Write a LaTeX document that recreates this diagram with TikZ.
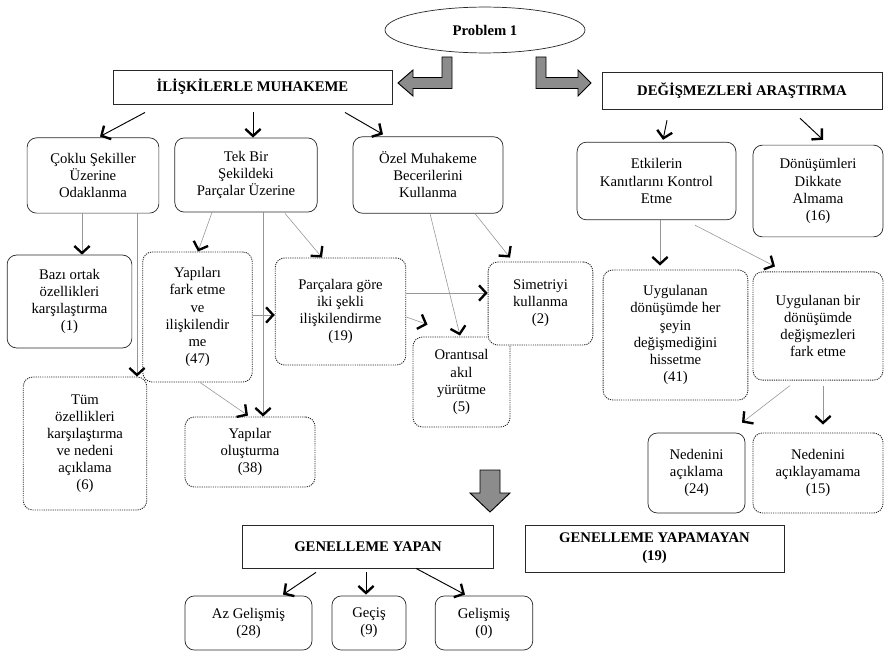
\documentclass[tikz,border=0pt]{standalone}
\usepackage{fontspec}
\setmainfont{Liberation Serif}
\usepackage{tikz}
\usetikzlibrary{shapes.geometric, arrows.meta, calc}
\definecolor{mydark}{RGB}{40,40,40}
\definecolor{mygray}{RGB}{150,150,150}
\definecolor{myfill}{RGB}{140,140,140}
\newcommand{\boxtxt}{\fontsize{12.5}{14.5}\selectfont}
\newcommand{\hdrtxt}{\fontsize{12.5}{15}\selectfont\bfseries}
\tikzset{
  hdrbox/.style={rectangle, draw=mydark, fill=white, align=center,
    font=\hdrtxt, line width=0.7pt, inner sep=1pt},
  rbox/.style={rectangle, draw=mydark, fill=white, align=center,
    font=\boxtxt, rounded corners=8pt, line width=0.6pt, inner sep=1pt},
  dbox/.style={rbox, dash pattern=on 1pt off 0.9pt, line width=0.75pt},
  arrow/.style={-{Straight Barb[length=6pt, width=13pt, line width=2pt]}, line width=0.8pt, color=black},
  thinarrow/.style={-{Straight Barb[color=black, length=6pt, width=13pt, line width=2pt]}, line width=0.5pt, color=mygray},
  blockarrow/.style={draw=black, fill=myfill, line width=0.8pt, line join=miter}
}

\begin{document}
\begin{tikzpicture}[x=0.85pt, y=-0.85pt]
  \useasboundingbox (0,0) rectangle (884,652);

  % Problem and the two main ways
  \node[ellipse, draw=mydark, fill=white, line width=0.6pt, minimum width=170pt, minimum height=39pt, font=\hdrtxt] (prob) at (485,30) {Problem 1};
  \node[hdrbox, minimum width=237pt, minimum height=29pt] (ilis) at (252.5,87) {İLİŞKİLERLE MUHAKEME};
  \node[hdrbox, minimum width=238pt, minimum height=32pt] (degis) at (742,91) {DEĞİŞMEZLERİ ARAŞTIRMA};
  \draw[blockarrow] (442,57) -- (452,57) -- (452,88.5) -- (413,88.5) -- (413,96) -- (398,83) -- (413,70) -- (413,77.5) -- (442,77.5) -- cycle;
  \draw[blockarrow] (546,57) -- (536,57) -- (536,88.5) -- (578,88.5) -- (578,96) -- (591,83) -- (578,70) -- (578,77.5) -- (546,77.5) -- cycle;

  % Second level
  \node[rbox, minimum width=112pt, minimum height=64pt] (coklu) at (93,175.5) {Çoklu Şekiller\\Üzerine\\Odaklanma};
  \node[rbox, minimum width=121pt, minimum height=63pt] (tek) at (246,175) {Tek Bir\\Şekildeki\\Parçalar Üzerine};
  \node[rbox, minimum width=127.5pt, minimum height=65pt] (ozel) at (428,175) {Özel Muhakeme\\Becerilerini\\Kullanma};
  \node[rbox, minimum width=135pt, minimum height=66pt] (etki) at (656.5,181) {Etkilerin\\Kanıtlarını Kontrol\\Etme};
  \node[rbox, minimum width=110.5pt, minimum height=78pt] (donus) at (818,191) {Dönüşümleri\\Dikkate\\Almama\\(16)};

  % Third level
  \node[rbox, minimum width=106pt, minimum height=79pt] (bazi) at (69.5,301.5) {Bazı ortak\\özellikleri\\karşılaştırma\\(1)};
  \node[dbox, minimum width=93pt, minimum height=110.5pt] (yapfark) at (197.5,317) {Yapıları\\fark etme\\ve\\ilişkilendir\\me\\(47)};
  \node[dbox, minimum width=111pt, minimum height=91pt] (parca) at (340.5,311.5) {Parçalara göre\\iki şekli\\ilişkilendirme\\(19)};
  \node[dbox, minimum width=82.5pt, minimum height=76.5pt] (oran) at (461.5,382) {Orantısal\\akıl\\yürütme\\(5)};
  \node[dbox, minimum width=89pt, minimum height=70.5pt] (simet) at (540.5,303.5) {Simetriyi\\kullanma\\(2)};
  \node[dbox, minimum width=123pt, minimum height=110.5pt] (uyg1) at (675.5,335) {Uygulanan\\dönüşümde her\\şeyin\\değişmediğini\\hissetme\\(41)};
  \node[dbox, minimum width=110.5pt, minimum height=92pt] (uyg2) at (818,326) {Uygulanan bir\\dönüşümde\\değişmezleri\\fark etme};

  % Fourth level
  \node[dbox, minimum width=105pt, minimum height=113pt] (tum) at (85,443.5) {Tüm\\özellikleri\\karşılaştırma\\ve nedeni\\açıklama\\(6)};
  \node[dbox, minimum width=110.5pt, minimum height=59.5pt] (yapolus) at (250,452) {Yapılar\\oluşturma\\(38)};
  \node[rbox, minimum width=82.5pt, minimum height=68pt] (ned1) at (696.5,473) {Nedenini\\açıklama\\(24)};
  \node[dbox, minimum width=110.5pt, minimum height=68pt] (ned2) at (818,473) {Nedenini\\açıklayamama\\(15)};

  % Generalisation
  \draw[blockarrow] (480,470) -- (500,470) -- (500,493) -- (510,493) -- (490,512) -- (470,493) -- (480,493) -- cycle;
  \node[hdrbox, minimum width=214pt, minimum height=36.5pt] (genyap) at (368,546.5) {GENELLEME YAPAN};
  \node[hdrbox, minimum width=220pt, minimum height=40pt] (genyapma) at (654.5,548.5) {GENELLEME YAPAMAYAN\\(19)};
  \node[rbox, minimum width=108pt, minimum height=46pt] (az) at (248.5,623) {Az Gelişmiş\\(28)};
  \node[rbox, minimum width=63pt, minimum height=46pt] (gecis) at (369,623) {Geçiş\\(9)};
  \node[rbox, minimum width=83pt, minimum height=46pt] (gelis) at (484,623) {Gelişmiş\\(0)};

  % Connectors
  \draw[arrow] ($(ilis.south)+(-107.5,8)$) -- ($(coklu.north)+(7,-1)$);
  \draw[arrow] ($(ilis.south)+(0.5,8)$) -- ($(tek.north)+(7,0)$);
  \draw[arrow] ($(ilis.south)+(92.5,8)$) -- ($(ozel.north)+(-45,-2)$);
  \draw[arrow] ($(degis.south)+(-75,10)$) -- ($(etki.north)+(6.5,-2)$);
  \draw[arrow] ($(degis.south)+(58,8)$) -- ($(donus.north)+(5,-5)$);

  \draw[thinarrow] ($(coklu.south)+(-11,0)$) -- ($(bazi.north)+(12.5,0)$);
  \draw[thinarrow] ($(coklu.south)+(44,0)$) -- ($(tum.north)+(52,0)$);
  \draw[thinarrow] ($(tek.south)+(-34,0)$) -- ($(yapfark.north)+(0.5,0)$);
  \draw[thinarrow] ($(tek.south)+(17,0)$) -- ($(yapolus.north)+(13,0)$);
  \draw[thinarrow] ($(tek.south)+(39,1)$) -- ($(parca.north)+(-18.5,0)$);
  \draw[thinarrow] ($(yapfark.east)+(0,-2)$) -- ($(parca.west)+(0,3.5)$);
  \draw[thinarrow] ($(yapfark.south)+(2.5,0)$) -- ($(yapolus.north)+(-2,-1)$);
  \draw[thinarrow] ($(ozel.south)+(47,0)$) -- ($(simet.north)+(-30.5,-4)$);
  \draw[thinarrow] ($(ozel.south)+(2,0)$) -- ($(oran.north)+(-1.5,-1)$);
  \draw[thinarrow] ($(parca.east)+(0,-18.5)$) -- ($(simet.west)+(0,-10.5)$);
  \draw[thinarrow] ($(parca.east)+(0,5.5)$) -- ($(oran.north west)+(15,-12)$);
  \draw[thinarrow] ($(etki.south)+(3.5,0)$) -- ($(uyg1.north)+(-15.5,-4)$);
  \draw[thinarrow] ($(etki.south)+(38.5,5)$) -- ($(uyg2.north)+(-43,-5)$);
  \draw[thinarrow] ($(uyg2.south)+(-28,5)$) -- ($(ned1.north)+(45.5,-10)$);
  \draw[thinarrow] ($(uyg2.south)+(5,5)$) -- ($(ned2.north)+(5,-8)$);

  \draw[arrow] ($(genyap.south)+(-52,4)$) -- ($(az.north)+(34.5,-1)$);
  \draw[arrow] ($(genyap.south)+(-2,4)$) -- ($(gecis.north)+(-3,-1)$);
  \draw[arrow] ($(genyap.south)+(48,0)$) -- ($(gelis.north)+(-19,-1)$);
\end{tikzpicture}
\end{document}
